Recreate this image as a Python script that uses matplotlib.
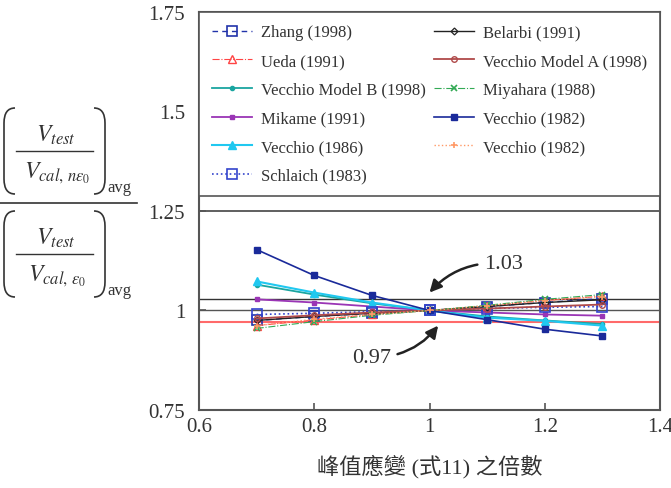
import matplotlib
matplotlib.use('Agg')
import matplotlib.pyplot as plt
from matplotlib.lines import Line2D
from matplotlib.path import Path
from matplotlib.patches import PathPatch

plt.rcParams['font.family'] = ['Liberation Serif', 'Noto Sans CJK TC']
plt.rcParams['mathtext.fontset'] = 'stix'

# 峰值應變倍數
x = [0.7, 0.8, 0.9, 1.0, 1.1, 1.2, 1.3]

zhang = [0.975, 0.985, 0.993, 1.0, 1.010, 1.020, 1.030]
ueda = [0.962, 0.976, 0.990, 1.0, 1.012, 1.025, 1.036]
vecchio_b = [1.065, 1.040, 1.018, 1.0, 0.985, 0.975, 0.966]
mikame = [1.028, 1.020, 1.010, 1.0, 0.995, 0.990, 0.987]
vecchio86 = [1.073, 1.045, 1.020, 1.0, 0.982, 0.974, 0.962]
schlaich = [0.990, 0.993, 0.997, 1.0, 1.005, 1.008, 1.010]
belarbi = [0.975, 0.985, 0.993, 1.0, 1.010, 1.020, 1.027]
vecchio_a = [0.980, 0.988, 0.995, 1.0, 1.005, 1.010, 1.015]
miyahara = [0.955, 0.972, 0.988, 1.0, 1.013, 1.028, 1.040]
vecchio82 = [1.153, 1.088, 1.038, 1.0, 0.977, 0.953, 0.936]
vecchio82b = [0.962, 0.978, 0.990, 1.0, 1.012, 1.025, 1.035]

W, H = 671, 489
fig = plt.figure(figsize=(W / 100, H / 100), dpi=100)
ax = fig.add_axes([0.2966, 0.1595, 0.687, 0.814])

# 參考線
ax.axhline(1.25, color='#444444', lw=1.2, zorder=1)
ax.axhline(1.03, color='#333333', lw=1.0, zorder=1)
ax.axhline(1.0, color='#555555', lw=1.0, zorder=1)
ax.axhline(0.97, color='#ff6a6a', lw=1.5, zorder=1)

h = {}
h['zhang'], = ax.plot(x, zhang, ls=(0, (4, 3)), color='#2233aa', lw=1, marker='s', ms=7, mfc='none', mew=1.2, label='Zhang (1998)')
h['ueda'], = ax.plot(x, ueda, ls='-.', color='#ff4444', lw=0.8, marker='^', ms=6, mfc='none', mew=1.0, label='Ueda (1991)')
h['vb'], = ax.plot(x, vecchio_b, ls='-', color='#1aa5a0', lw=1.3, marker='o', ms=3, label='Vecchio Model B (1998)')
h['mikame'], = ax.plot(x, mikame, ls='-', color='#9a35b5', lw=1.3, marker='s', ms=3.5, label='Mikame (1991)')
h['v86'], = ax.plot(x, vecchio86, ls='-', color='#20c8f0', lw=1.5, marker='^', ms=6, label='Vecchio (1986)')
h['schlaich'], = ax.plot(x, schlaich, ls=':', color='#3344cc', lw=1.2, marker='s', ms=7, mfc='none', mew=1.2, label='Schlaich (1983)')
h['belarbi'], = ax.plot(x, belarbi, ls='-', color='#222222', lw=1.0, marker='D', ms=3.5, mfc='none', mew=0.9, label='Belarbi (1991)')
h['va'], = ax.plot(x, vecchio_a, ls='-', color='#b04a4a', lw=1.3, marker='o', ms=4, mfc='none', mew=1.0, label='Vecchio Model A (1998)')
h['miyahara'], = ax.plot(x, miyahara, ls='-.', color='#33aa55', lw=0.8, marker='x', ms=4, mew=1.2, label='Miyahara (1988)')
h['v82'], = ax.plot(x, vecchio82, ls='-', color='#1a2a9a', lw=1.2, marker='s', ms=5, label='Vecchio (1982)')
h['v82b'], = ax.plot(x, vecchio82b, ls=':', color='#ff9966', lw=1.0, marker='+', ms=5, mew=1.2, label='Vecchio (1982)')

order = ['zhang', 'ueda', 'vb', 'mikame', 'v86', 'schlaich',
         'belarbi', 'va', 'miyahara', 'v82', 'v82b']
leg = ax.legend([h[k] for k in order], [h[k].get_label() for k in order],
                ncol=2, loc='upper left', bbox_to_anchor=(0, 0.545, 1, 0.455),
                mode='expand', fontsize=12, frameon=True, fancybox=False,
                edgecolor='#555555', framealpha=1, borderpad=0.75,
                labelspacing=0.76, handlelength=2.4, handletextpad=0.55,
                columnspacing=0.3, borderaxespad=0, labelcolor='#333333')
leg.get_frame().set_linewidth(1.2)

# 標註
ax.annotate('1.03', xy=(1.0, 1.045), xytext=(1.095, 1.118), fontsize=16,
            va='center', ha='left', color='#333333',
            arrowprops=dict(arrowstyle='-|>', color='#222222', lw=1.8,
                            mutation_scale=18, connectionstyle='arc3,rad=0.25',
                            shrinkA=3, shrinkB=0))
ax.annotate('0.97', xy=(1.015, 0.962), xytext=(0.865, 0.882), fontsize=16,
            va='center', ha='left', color='#333333',
            arrowprops=dict(arrowstyle='-|>', color='#222222', lw=1.8,
                            mutation_scale=18, connectionstyle='arc3,rad=0.25',
                            shrinkA=3, shrinkB=0))

ax.set_xlim(0.6, 1.4)
ax.set_ylim(0.75, 1.75)
ax.set_xticks([0.6, 0.8, 1.0, 1.2, 1.4])
ax.set_xticklabels(['0.6', '0.8', '1', '1.2', '1.4'])
ax.set_yticks([0.75, 1.0, 1.25, 1.5, 1.75])
ax.set_yticklabels(['0.75', '1', '1.25', '1.5', '1.75'])
ax.tick_params(direction='in', labelsize=15, color='#555555', length=5, width=1.2,
               labelcolor='#333333')
ax.tick_params(axis='x', pad=5)
ax.tick_params(axis='y', pad=10)
for s in ax.spines.values():
    s.set_color('#555555')
    s.set_linewidth(1.5)

ax.set_xlabel('峰值應變 (式11) 之倍數', fontsize=16, color='#333333', labelpad=13)


# y 軸標題：兩個平均比值相除（以像素位置排版）
def fx(p):
    return p / W


def fy(p):
    return 1 - p / H


def paren(x_end, x_side, cy, half=43):
    # 圓角括號：上下彎、中段直
    r = half * 0.35
    pts = [(x_end, cy - half), (x_side, cy - half), (x_side, cy - half + r),
           (x_side, cy + half - r),
           (x_side, cy + half), (x_end, cy + half)]
    codes = [Path.MOVETO, Path.CURVE3, Path.CURVE3, Path.LINETO,
             Path.CURVE3, Path.CURVE3]
    path = Path([(fx(a), fy(b)) for a, b in pts], codes)
    fig.add_artist(PathPatch(path, fill=False, edgecolor='#333333', lw=1.2,
                             transform=fig.transFigure))


def ratio_group(cy, denom):
    c = '#333333'
    fig.text(fx(56), fy(cy - 17), r'$V_{test}$', fontsize=17, ha='center', va='center', color=c)
    fig.text(fx(57), fy(cy + 21), denom, fontsize=17, ha='center', va='center', color=c)
    fig.add_artist(Line2D([fx(16), fx(93)], [fy(cy)] * 2, color=c, lw=1.0))
    paren(15, 4, cy)
    paren(94, 105, cy)
    fig.text(fx(107), fy(cy + 36), 'avg', fontsize=12, ha='left', va='center', color=c)


ratio_group(152, r'$V_{cal,\,n\varepsilon_0}$')
ratio_group(255, r'$V_{cal,\,\varepsilon_0}$')
fig.add_artist(Line2D([0.0, fx(137)], [fy(204)] * 2, color='#333333', lw=1.2))

fig.savefig('out.png', dpi=100)
